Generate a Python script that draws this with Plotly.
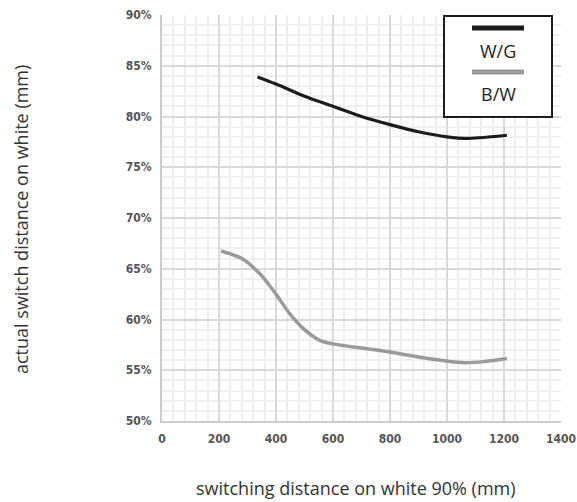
import plotly.graph_objects as go

# W/G series (switching distance mm, actual switch distance fraction)
wg_x = [335, 400, 500, 600, 700, 800, 900, 1000, 1075, 1210]
wg_y = [0.839, 0.832, 0.820, 0.810, 0.800, 0.792, 0.785, 0.780, 0.7785, 0.7815]

# B/W series
bw_x = [207, 280, 340, 400, 450, 500, 550, 600, 700, 800, 900, 1000, 1060, 1130, 1210]
bw_y = [0.6675, 0.660, 0.646, 0.625, 0.605, 0.590, 0.580, 0.576, 0.572, 0.568, 0.563, 0.559, 0.5575, 0.5585, 0.5615]

series_names = ["W/G", "B/W"]
series_colors = ["#1c1c1c", "#9a9a9a"]

x_ticks = [0, 200, 400, 600, 800, 1000, 1200, 1400]
y_ticks = [0.50, 0.55, 0.60, 0.65, 0.70, 0.75, 0.80, 0.85, 0.90]

x_title = "switching distance on white 90% (mm)"
y_title = "actual switch distance on white (mm)"

tick_font = dict(family="DejaVu Sans Condensed", size=12, color="#555555", weight="bold")
title_font = dict(family="Open Sans", size=18, color="#333333")

fig = go.Figure()
fig.add_trace(go.Scatter(x=wg_x, y=wg_y, mode="lines", name=series_names[0],
                         line=dict(color=series_colors[0], width=3.2, shape="spline", smoothing=1.0),
                         showlegend=False))
fig.add_trace(go.Scatter(x=bw_x, y=bw_y, mode="lines", name=series_names[1],
                         line=dict(color=series_colors[1], width=3.5, shape="spline", smoothing=1.0),
                         showlegend=False))

fig.update_xaxes(range=[0, 1400], tickvals=x_ticks, ticktext=[str(v) for v in x_ticks],
                 showgrid=True, gridcolor="#d9d9d9", gridwidth=1.5,
                 minor=dict(dtick=40, showgrid=True, gridcolor="#efefef", gridwidth=1.5),
                 showline=True, linecolor="#cccccc", linewidth=2, mirror=False,
                 zeroline=False, ticks="outside", ticklen=6, tickcolor="rgba(0,0,0,0)",
                 tickfont=tick_font, automargin=False)
fig.update_yaxes(range=[0.5, 0.9], tickvals=y_ticks, ticktext=[f"{int(round(v*100))}%" for v in y_ticks],
                 showgrid=True, gridcolor="#d9d9d9", gridwidth=1.5,
                 minor=dict(dtick=0.01, showgrid=True, gridcolor="#efefef", gridwidth=1.5),
                 showline=True, linecolor="#cccccc", linewidth=2,
                 zeroline=False, ticks="outside", ticklen=6, tickcolor="rgba(0,0,0,0)",
                 tickfont=tick_font, automargin=False)

# paper-coordinate helpers based on plot area pixels
px0, px1 = 162, 561
py0, py1 = 15, 421
def fx(p):
    return (p - px0) / (px1 - px0)
def fy(p):
    return 1 - (p - py0) / (py1 - py0)

# axis titles
fig.add_annotation(xref="paper", yref="paper", x=fx(356), y=fy(488), text=x_title,
                   showarrow=False, xanchor="center", yanchor="middle", font=title_font)
fig.add_annotation(xref="paper", yref="paper", x=fx(21), y=fy(220), text=y_title,
                   showarrow=False, xanchor="center", yanchor="middle", textangle=-90, font=title_font)

# custom legend box
fig.add_shape(type="rect", xref="paper", yref="paper",
              x0=fx(444), x1=fx(552), y0=fy(117), y1=fy(16),
              line=dict(color="#1c1c1c", width=2), fillcolor="white", layer="above")
for name, col, ly, ty in zip(series_names, series_colors, [28, 72], [51, 94]):
    fig.add_shape(type="line", xref="paper", yref="paper",
                  x0=fx(472), x1=fx(524), y0=fy(ly), y1=fy(ly),
                  line=dict(color=col, width=5), layer="above")
    fig.add_annotation(xref="paper", yref="paper", x=fx(498), y=fy(ty), text=name,
                       showarrow=False, xanchor="center", yanchor="middle",
                       font=dict(family="Open Sans", size=18, color="#222222"))

fig.update_layout(width=577, height=502, plot_bgcolor="white", paper_bgcolor="white",
                  margin=dict(l=162, r=16, t=15, b=81), showlegend=False)

fig.write_html("out.html", config={"displayModeBar": False},
               post_script="document.body.style.margin='0px';")
